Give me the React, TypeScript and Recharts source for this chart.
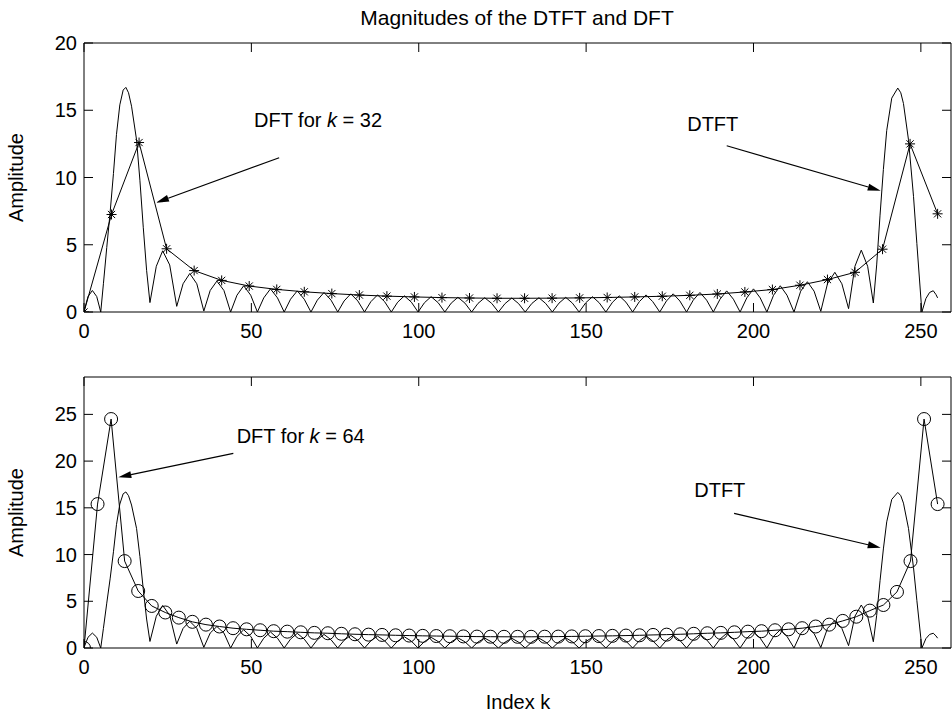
import React from "react";
import { LineChart, Line, XAxis, YAxis, ReferenceLine, ReferenceDot } from "recharts";

const FONT = "'Liberation Sans', Arial, Helvetica, sans-serif";

// DTFT magnitude (same curve is drawn in both panels)
const dtftIndex = [
  0, 1.2, 2.5, 3.8, 5.0,
  5.8, 6.8, 7.8, 8.8, 9.7, 10.7, 11.7, 12.5, 13.3, 14.2, 15.7, 16.7, 17.7, 18.7, 19.7,
  21.6, 23.5, 25.6, 27.7,
  29.6, 31.6, 33.7, 35.8,
  37.7, 39.7, 41.8, 43.8,
  45.7, 47.7, 49.8, 51.8,
  53.7, 55.7, 57.8, 59.8,
  61.7, 63.7, 65.8, 67.8,
  69.7, 71.7, 73.8, 75.8,
  77.7, 79.7, 81.8, 83.8,
  85.7, 87.7, 89.8, 91.8,
  93.7, 95.7, 97.8, 99.8,
  101.7, 103.7, 105.8, 107.8,
  109.7, 111.7, 113.8, 115.8,
  117.7, 119.7, 121.8, 123.8,
  125.8, 127.8, 129.8, 131.8,
  133.8, 135.9, 137.9, 139.9,
  141.9, 143.9, 145.9, 147.9,
  149.9, 151.9, 153.9, 155.9,
  157.9, 159.9, 161.9, 163.9,
  165.9, 167.9, 169.9, 172.0,
  174.0, 176.0, 178.0, 180.0,
  182.0, 184.0, 186.0, 188.0,
  190.0, 192.0, 194.0, 196.0,
  198.0, 200.0, 202.0, 204.0,
  206.0, 208.0, 210.0, 212.1,
  214.1, 216.1, 218.1, 220.1,
  222.1, 224.3, 226.4, 228.4,
  230.3, 232.2, 234.1, 235.8,
  236.8, 237.8, 238.8, 239.8, 241.3, 243.1, 244.0, 244.8, 246.3, 247.8, 248.8, 250.3,
  251.5, 252.6, 253.7, 254.5, 255,
];
const dtftMag = [
  0.05, 1.15, 1.6, 1.15, 0,
  2.1, 4.8, 7.4, 10.3, 13.2, 15.4, 16.5, 16.7, 16.3, 15.3, 12.8, 9.8, 6.3, 3.1, 0.7,
  3.4, 4.55, 3.5, 0.42,
  2.1, 2.86, 2.1, 0.07,
  1.6, 2.3, 1.6, 0,
  1.25, 1.95, 1.25, 0,
  1.05, 1.72, 1.05, 0,
  0.95, 1.57, 0.95, 0,
  0.88, 1.45, 0.88, 0,
  0.82, 1.35, 0.82, 0,
  0.77, 1.27, 0.77, 0,
  0.73, 1.2, 0.73, 0,
  0.69, 1.14, 0.69, 0,
  0.66, 1.09, 0.66, 0,
  0.64, 1.06, 0.64, 0,
  0.63, 1.04, 0.63, 0,
  0.64, 1.06, 0.64, 0,
  0.66, 1.09, 0.66, 0,
  0.69, 1.14, 0.69, 0,
  0.73, 1.2, 0.73, 0,
  0.77, 1.27, 0.77, 0,
  0.82, 1.35, 0.82, 0,
  0.88, 1.45, 0.88, 0,
  0.95, 1.57, 0.95, 0,
  1.05, 1.72, 1.05, 0,
  1.25, 1.95, 1.25, 0,
  1.55, 2.25, 1.55, 0.05,
  2.1, 2.95, 2.1, 0.25,
  3.4, 4.6, 3.4, 0.67,
  3.5, 7.2, 10.6, 13.5, 15.9, 16.65, 16.3, 15.5, 12.8, 8.6, 5.1, 0,
  1.0, 1.45, 1.58, 1.3, 1.05,
];

// 32-point DFT magnitudes (top panel, "*")
const dft32Mag = [
  0, 7.25, 12.6, 4.7, 3.08, 2.35, 1.93, 1.68,
  1.5, 1.37, 1.26, 1.18, 1.12, 1.07, 1.04, 1.02,
  1.02, 1.03, 1.05, 1.08, 1.12, 1.17, 1.24, 1.34,
  1.49, 1.67, 1.99, 2.41, 2.95, 4.67, 12.5, 7.3,
];

// 64-point DFT magnitudes (bottom panel, "o")
const dft64Mag = [
  0, 15.4, 24.5, 9.3, 6.1, 4.5, 3.8, 3.25,
  2.8, 2.5, 2.3, 2.12, 2.0, 1.9, 1.8, 1.75,
  1.68, 1.62, 1.58, 1.52, 1.47, 1.43, 1.4, 1.36,
  1.33, 1.3, 1.28, 1.26, 1.24, 1.22, 1.21, 1.2,
  1.2, 1.2, 1.21, 1.22, 1.24, 1.26, 1.28, 1.3,
  1.33, 1.36, 1.4, 1.43, 1.47, 1.52, 1.58, 1.62,
  1.68, 1.75, 1.8, 1.9, 2.0, 2.12, 2.3, 2.5,
  2.9, 3.35, 4.0, 4.6, 6.0, 9.3, 24.5, 15.4,
];

const xTicks = [0, 50, 100, 150, 200, 250];
const topYTicks = [0, 5, 10, 15, 20];
const bottomYTicks = [0, 5, 10, 15, 20, 25];

const dtftData = dtftIndex.map((x, i) => ({ x, y: dtftMag[i] }));
// DFT bins are spread over the same 0..255 index span as the DTFT
const dft32Data = dft32Mag.map((y, k) => ({ x: (k * 255) / 31, y }));
const dft64Data = dft64Mag.map((y, k) => ({ x: (k * 255) / 63, y }));

const tickStyle = { fontSize: 20, fill: "#000", fontFamily: FONT };
const NoLabel = () => <g />;

function Star(props: any) {
  const { cx, cy, index } = props;
  if (cx == null || cy == null) return <g key={`s${index}`} />;
  const r = 5;
  const d = r * 0.72;
  return (
    <g key={`s${index}`} stroke="#000" strokeWidth={1}>
      <line x1={cx} y1={cy - r} x2={cx} y2={cy + r} />
      <line x1={cx - r} y1={cy} x2={cx + r} y2={cy} />
      <line x1={cx - d} y1={cy - d} x2={cx + d} y2={cy + d} />
      <line x1={cx - d} y1={cy + d} x2={cx + d} y2={cy - d} />
    </g>
  );
}

function Ring(props: any) {
  const { cx, cy, index } = props;
  if (cx == null || cy == null) return <g key={`c${index}`} />;
  return <circle key={`c${index}`} cx={cx} cy={cy} r={6.5} fill="none" stroke="#000" strokeWidth={1} />;
}

function Arrow(props: any) {
  const { x1, y1, x2, y2 } = props;
  const ang = Math.atan2(y2 - y1, x2 - x1);
  const len = 13;
  const half = 3.5;
  const bx = x2 - len * Math.cos(ang);
  const by = y2 - len * Math.sin(ang);
  const px = -Math.sin(ang) * half;
  const py = Math.cos(ang) * half;
  return (
    <g>
      <line x1={x1} y1={y1} x2={bx} y2={by} stroke="#000" strokeWidth={1.2} />
      <polygon points={`${x2},${y2} ${bx + px},${by + py} ${bx - px},${by - py}`} fill="#000" />
    </g>
  );
}

const note = (content: React.ReactNode) => (p: any) =>
  (
    <text x={p.cx} y={p.cy} fontSize={20} fontFamily={FONT} fill="#000">
      {content}
    </text>
  );

function Panel({
  height,
  margin,
  yMax,
  yTicks,
  children,
}: {
  height: number;
  margin: { top: number; right: number; bottom: number; left: number };
  yMax: number;
  yTicks: number[];
  children: React.ReactNode;
}) {
  return (
    <LineChart width={952} height={height} margin={margin}>
      <XAxis
        xAxisId="b"
        type="number"
        dataKey="x"
        domain={[0, 259]}
        ticks={xTicks}
        interval={0}
        allowDataOverflow
        height={30}
        tickSize={-9}
        tickMargin={21}
        axisLine={{ stroke: "#000" }}
        tickLine={{ stroke: "#000" }}
        tick={tickStyle}
      />
      <XAxis
        xAxisId="t"
        orientation="top"
        type="number"
        dataKey="x"
        domain={[0, 259]}
        ticks={xTicks}
        interval={0}
        allowDataOverflow
        height={1}
        tickSize={-9}
        axisLine={{ stroke: "#000" }}
        tickLine={{ stroke: "#000" }}
        tick={NoLabel}
      />
      <YAxis
        yAxisId="l"
        type="number"
        domain={[0, yMax]}
        ticks={yTicks}
        interval={0}
        allowDataOverflow
        width={40}
        tickSize={-9}
        tickMargin={16}
        axisLine={{ stroke: "#000" }}
        tickLine={{ stroke: "#000" }}
        tick={tickStyle}
      />
      <YAxis
        yAxisId="r"
        orientation="right"
        type="number"
        domain={[0, yMax]}
        ticks={yTicks}
        interval={0}
        allowDataOverflow
        width={1}
        tickSize={-9}
        axisLine={{ stroke: "#000" }}
        tickLine={{ stroke: "#000" }}
        tick={NoLabel}
      />
      {children}
    </LineChart>
  );
}

export default function App() {
  return (
    <div
      style={{
        position: "absolute",
        left: 0,
        top: 0,
        width: 952,
        height: 715,
        background: "#fff",
        fontFamily: FONT,
      }}
    >
      <div style={{ position: "absolute", left: 0, top: 0 }}>
        <Panel height={345} margin={{ top: 42, right: 0, bottom: 3, left: 44 }} yMax={20} yTicks={topYTicks}>
          <Line
            xAxisId="b"
            yAxisId="l"
            data={dtftData}
            dataKey="y"
            type="linear"
            stroke="#000"
            strokeWidth={1}
            dot={false}
            isAnimationActive={false}
          />
          <Line
            xAxisId="b"
            yAxisId="l"
            data={dft32Data}
            dataKey="y"
            type="linear"
            stroke="#000"
            strokeWidth={1}
            dot={(p: any) => <Star {...p} />}
            isAnimationActive={false}
          />
          <ReferenceLine
            xAxisId="b"
            yAxisId="l"
            segment={[
              { x: 58.3, y: 11.47 },
              { x: 21.5, y: 8.13 },
            ]}
            shape={Arrow}
          />
          <ReferenceDot
            xAxisId="b"
            yAxisId="l"
            x={50.8}
            y={13.78}
            r={0}
            shape={note(
              <>
                DFT for <tspan fontStyle="italic">k</tspan> = 32
              </>
            )}
          />
          <ReferenceLine
            xAxisId="b"
            yAxisId="l"
            segment={[
              { x: 192.0, y: 12.36 },
              { x: 238.0, y: 9.02 },
            ]}
            shape={Arrow}
          />
          <ReferenceDot xAxisId="b" yAxisId="l" x={180.2} y={13.46} r={0} shape={note("DTFT")} />
        </Panel>
      </div>
      <div style={{ position: "absolute", left: 0, top: 345 }}>
        <Panel height={370} margin={{ top: 31, right: 0, bottom: 37, left: 44 }} yMax={29} yTicks={bottomYTicks}>
          <Line
            xAxisId="b"
            yAxisId="l"
            data={dtftData}
            dataKey="y"
            type="linear"
            stroke="#000"
            strokeWidth={1}
            dot={false}
            isAnimationActive={false}
          />
          <Line
            xAxisId="b"
            yAxisId="l"
            data={dft64Data}
            dataKey="y"
            type="linear"
            stroke="#000"
            strokeWidth={1}
            dot={(p: any) => <Ring {...p} />}
            isAnimationActive={false}
          />
          <ReferenceLine
            xAxisId="b"
            yAxisId="l"
            segment={[
              { x: 44.6, y: 20.83 },
              { x: 10.25, y: 18.27 },
            ]}
            shape={Arrow}
          />
          <ReferenceDot
            xAxisId="b"
            yAxisId="l"
            x={45.6}
            y={21.9}
            r={0}
            shape={note(
              <>
                DFT for <tspan fontStyle="italic">k</tspan> = 64
              </>
            )}
          />
          <ReferenceLine
            xAxisId="b"
            yAxisId="l"
            segment={[
              { x: 194.2, y: 14.41 },
              { x: 238.0, y: 10.73 },
            ]}
            shape={Arrow}
          />
          <ReferenceDot xAxisId="b" yAxisId="l" x={182.3} y={16.19} r={0} shape={note("DTFT")} />
        </Panel>
      </div>
      <svg
        width={952}
        height={715}
        style={{ position: "absolute", left: 0, top: 0, pointerEvents: "none" }}
        fontFamily={FONT}
        fill="#000"
      >
        <text x={517} y={25} fontSize={21} textAnchor="middle">
          Magnitudes of the DTFT and DFT
        </text>
        <text x={23} y={177.5} fontSize={20} textAnchor="middle" transform="rotate(-90 23 177.5)">
          Amplitude
        </text>
        <text x={23} y={512.5} fontSize={20} textAnchor="middle" transform="rotate(-90 23 512.5)">
          Amplitude
        </text>
        <text x={518} y={709} fontSize={20} textAnchor="middle">
          Index k
        </text>
      </svg>
    </div>
  );
}
